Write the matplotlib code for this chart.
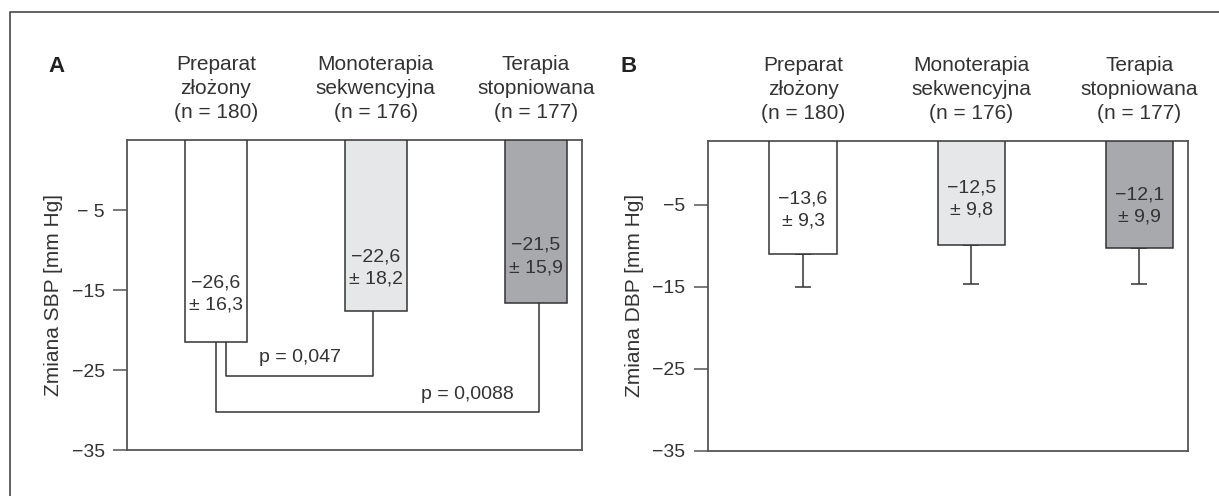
import matplotlib.pyplot as plt
from matplotlib.lines import Line2D
from matplotlib.transforms import blended_transform_factory

plt.rcParams['font.family'] = ['Liberation Sans', 'DejaVu Sans']

groups = ['Preparat\nzłożony\n(n = 180)', 'Monoterapia\nsekwencyjna\n(n = 176)', 'Terapia\nstopniowana\n(n = 177)']
bar_colors = ['white', '#e6e7e8', '#a8a9ac']

# SBP panel (A): bar ends as drawn, text inside bars
sbp_ends = [-21.5, -17.6, -16.6]
sbp_text = ['\u221226,6\n\u00b1 16,3', '\u221222,6\n\u00b1 18,2', '\u221221,5\n\u00b1 15,9']
sbp_text_y = [-15.5, -12.2, -10.8]
sbp_ticks = [-5, -15, -25, -35]
sbp_ticklabels = ['\u2212 5', '\u221215', '\u221225', '\u221235']

# DBP panel (B)
dbp_ends = [-11.0, -9.85, -10.2]
dbp_whisker = [-15.0, -14.7, -14.7]
dbp_text = ['\u221213,6\n\u00b1 9,3', '\u221212,5\n\u00b1 9,8', '\u221212,1\n\u00b1 9,9']
dbp_text_y = [-5.6, -4.3, -5.1]
dbp_ticks = [-5, -15, -25, -35]
dbp_ticklabels = ['\u22125', '\u221215', '\u221225', '\u221235']

# comparisons in panel A: (left x, right x, bracket level, text x, text y, text)
pvals = [(0.06, 0.985, -25.75, 0.525, -23.4, 'p = 0,047'),
         (0.0, 2.02, -30.3, 1.575, -28.0, 'p = 0,0088')]

fig = plt.figure(figsize=(12.19, 4.96), dpi=100)
axA = fig.add_axes([0.1042, 0.0927, 0.3733, 0.625])
axB = fig.add_axes([0.5806, 0.0913, 0.394, 0.6244])

edge = '#333333'
spine_c = '#555555'


def setup(ax, top, ends, width, xlim, ticks, ticklabels, ylabel, texts, text_y):
    x = range(len(ends))
    heights = [e - top for e in ends]
    ax.bar(x, heights, bottom=top, width=width, color=bar_colors,
           edgecolor=edge, linewidth=1.1, zorder=3)
    for i, (t, ty) in enumerate(zip(texts, text_y)):
        ax.text(i, ty, t, ha='center', va='center', fontsize=14,
                color='#333333', linespacing=1.4, zorder=4)
    tr = blended_transform_factory(ax.transData, ax.transAxes)
    for i, g in enumerate(groups):
        ax.text(i, 1.165, g, transform=tr, ha='center', va='center',
                fontsize=15, color='#333333', linespacing=1.33)
    ax.set_ylim(-35, top)
    ax.set_xlim(*xlim)
    ax.set_xticks([])
    ax.set_yticks(ticks)
    ax.set_yticklabels(ticklabels, fontsize=14, color='#333333')
    ax.tick_params(axis='y', length=10, width=1.1, color=spine_c, pad=6)
    ax.set_ylabel(ylabel, fontsize=15, color='#333333', labelpad=6)
    for s in ax.spines.values():
        s.set_color(spine_c)
        s.set_linewidth(1.3)


setup(axA, 3.75, sbp_ends, 0.39, (-0.556, 2.29), sbp_ticks, sbp_ticklabels,
      'Zmiana SBP [mm Hg]', sbp_text, sbp_text_y)
setup(axB, 2.8, dbp_ends, 0.40, (-0.567, 2.29), dbp_ticks, dbp_ticklabels,
      'Zmiana DBP [mm Hg]', dbp_text, dbp_text_y)

# error whiskers (downward only)
lower = [e - w for e, w in zip(dbp_ends, dbp_whisker)]
axB.errorbar(range(3), dbp_ends, yerr=[lower, [0, 0, 0]], fmt='none',
             ecolor=edge, elinewidth=1.1, capsize=5.5, capthick=1.1, zorder=2)

# significance brackets
for i, (x0, x1, lev, tx, ty, t) in enumerate(pvals):
    top0 = sbp_ends[0]
    top1 = sbp_ends[1] if i == 0 else sbp_ends[2]
    axA.plot([x0, x0, x1, x1], [top0, lev, lev, top1], color=edge,
             linewidth=1.1, zorder=2)
    axA.text(tx, ty, t, ha='center', va='center', fontsize=14, color='#333333')

fig.text(0.046, 0.865, 'A', fontsize=16, fontweight='bold', va='center', ha='center', color='#222222')
fig.text(0.5155, 0.865, 'B', fontsize=16, fontweight='bold', va='center', ha='center', color='#222222')

# outer frame (left and top edges)
fig.add_artist(Line2D([0.0082, 0.0082, 1.0], [0.0, 0.9758, 0.9758],
                      transform=fig.transFigure, color='#555555', linewidth=1.3))

fig.savefig('out.png', dpi=100)
